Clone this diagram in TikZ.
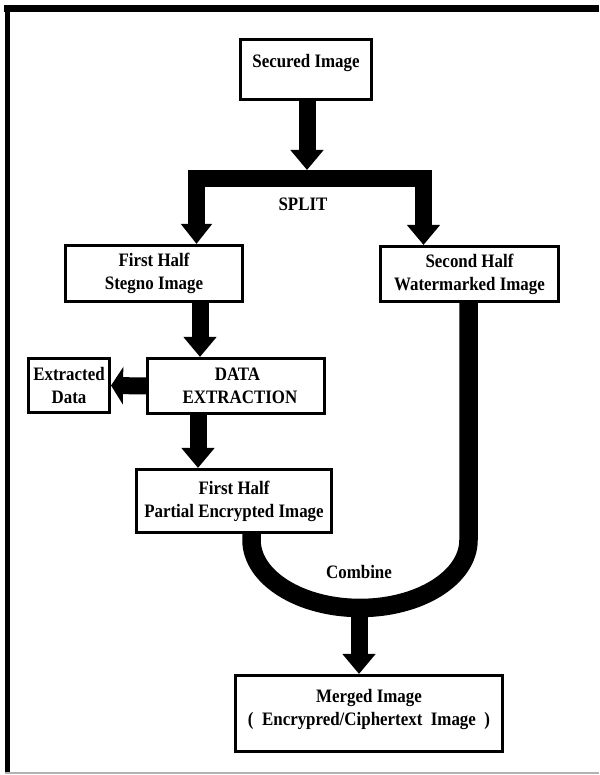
\documentclass[tikz,border=0pt]{standalone}
\usepackage{fontspec}
\setmainfont{Liberation Serif}
\newfontfamily\labfont[FakeStretch=0.89]{Liberation Serif}
\usetikzlibrary{arrows.meta}
\begin{document}
\begin{tikzpicture}[x=1pt,y=1pt,
  box/.style={draw=black, line width=2.6pt, fill=white, inner sep=0pt},
  lab/.style={font=\labfont\bfseries\fontsize{19}{23}\selectfont, align=center, inner sep=0pt},
  fat/.style={line width=17pt, line join=miter},
  tipA/.style={-{Triangle[width=32pt,length=20pt]}},
  tipS/.style={-{Triangle[width=37pt,length=12pt]}}
]
\useasboundingbox (0,0) rectangle (599,775);
% frame
\draw[line width=7pt] (4,766.5) -- (599,766.5);
\draw[line width=5pt] (7.5,770) -- (7.5,2);
\draw[line width=1.5pt, gray!60] (5,2) -- (599,2);

% boxes
\node[box, minimum width=131.5pt, minimum height=60.5pt] (secured) at (306,705.5) {};
\node[lab] (securedtxt) at (306,712) {Secured Image};
\node[box, minimum width=177.5pt, minimum height=56.5pt, lab] (stegno) at (154,501.5) {First Half\\Stegno Image};
\node[box, minimum width=178.5pt, minimum height=55.5pt, lab] (second) at (469.5,501) {Second Half\\Watermarked Image};
\node[box, minimum width=177.5pt, minimum height=55.5pt, lab] (dex) at (236,389) {\hspace*{3pt}DATA\\\hspace*{8pt}EXTRACTION};
\node[box, minimum width=81.5pt, minimum height=54.5pt, lab] (extracted) at (69,389.5) {Extracted\\Data};
\node[box, minimum width=195.5pt, minimum height=63.5pt, lab] (partial) at (234,274) {First Half\\Partial Encrypted Image};
\node[box, minimum width=267.5pt, minimum height=76.5pt] (merged) at (369,61.5) {};
\node[lab] (mergedtxt) at (369,65.5) {Merged Image\\(\ \ Encrypred/Ciphertext\ \ Image\ \ )};

% helper coordinates
\coordinate (splittop) at (307,605);
\coordinate (sl) at (196.5,596);
\coordinate (sr) at (423.5,596);
\coordinate (colA) at (200,0);
\coordinate (colB) at (198,0);
\coordinate (colC) at (468.5,235);
\coordinate (colD) at (251.5,0);
\coordinate (cbot) at (359,167);

% connectors
\draw[fat, tipA] (secured.south -| splittop) -- (splittop);
\draw[fat, {Triangle[width=30pt,length=20pt]}-{Triangle[width=32pt,length=20pt]}]
  (stegno.north -| sl) -- (sl) -- (sr) -- (second.north -| sr);
\draw[fat, tipA] (stegno.south -| colA) -- (dex.north -| colA);
\draw[fat, tipS] (dex.west) -- (extracted.east);
\draw[fat, tipA] (dex.south -| colB) -- (partial.north -| colB);
\draw[line width=18.5pt] (second.south -| colC) -- (colC)
  arc[start angle=0, end angle=-180, x radius=108.5pt, y radius=68pt]
  -- (partial.south -| colD);
\draw[fat, tipA] (cbot) -- (merged.north -| cbot);

% labels
\node[lab] (split) at (303,571) {SPLIT};
\node[lab] (combine) at (359,203) {Combine};
\end{tikzpicture}
\end{document}
